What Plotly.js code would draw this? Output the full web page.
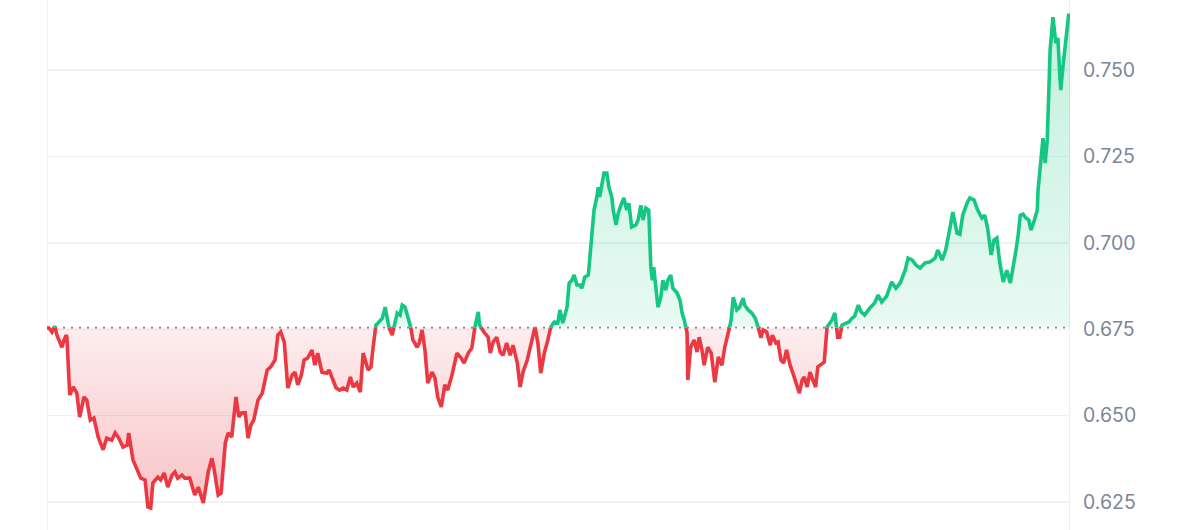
<!DOCTYPE html>
<html>
<head>
<meta charset="utf-8">
<script src="https://cdn.plot.ly/plotly-3.0.1.min.js"></script>
<style>
  html, body { margin: 0; padding: 0; background: #ffffff; }
  #chart { width: 1200px; height: 530px; }
</style>
</head>
<body>
<div id="chart"></div>
<script>
// Minutes since the start of the 24h window
const times = [
  0,3,7,11,14,18,21,24,27,28,32,37,42,46,52,56,61,66,72,79,84,91,96,101,107,113,115,121,127,132,
  138,142,146,149,156,160,165,170,176,180,184,190,194,201,208,213,220,227,232,235,241,245,251,255,260,266,270,274,279,283,
  287,291,297,303,310,315,321,325,329,334,339,345,349,353,358,362,367,373,377,381,387,394,397,401,407,412,417,422,427,431,
  436,441,445,452,456,459,463,466,472,476,480,486,488,493,497,500,504,508,512,515,521,524,528,532,536,542,546,550,555,560,
  564,570,577,583,587,593,598,602,607,609,615,621,624,628,633,638,642,647,652,656,662,666,670,676,681,687,691,695,700,705,
  709,714,719,722,726,732,735,739,742,746,750,753,757,762,764,767,770,774,776,778,781,784,788,791,795,797,801,804,809,812,
  816,819,823,829,832,836,839,843,847,850,852,854,860,864,867,871,874,878,881,887,891,894,897,901,902,906,911,915,918,922,
  925,930,935,940,945,950,954,959,963,966,971,975,980,982,987,992,997,1001,1005,1008,1013,1018,1021,1026,1029,1033,1037,1041,1046,1050,
  1056,1059,1063,1066,1070,1074,1078,1082,1085,1091,1094,1098,1102,1105,1109,1113,1116,1119,1125,1129,1133,1137,1142,1146,1151,1158,1165,1170,1175,1182,
  1189,1195,1201,1208,1212,1218,1223,1229,1236,1243,1250,1254,1260,1265,1271,1275,1281,1285,1289,1295,1299,1305,1310,1316,1320,1324,1329,1333,1337,1341,
  1346,1351,1356,1360,1364,1367,1370,1374,1378,1382,1385,1389,1394,1395,1398,1401,1402,1405,1408,1412,1416,1420,1423,1426,1427,1430,1436,1438,1440
];

// Price (USD)
const prices = [
  0.6755,0.6753,0.6742,0.6759,0.6733,0.6713,0.6698,0.6719,0.6733,0.6727,0.6560,0.6583,0.6565,0.6496,0.6554,0.6545,0.6487,0.6493,0.6438,0.6401,0.6435,0.6429,0.6450,0.6435,0.6409,0.6415,0.6450,0.6372,0.6343,0.6319,
  0.6314,0.6236,0.6233,0.6305,0.6322,0.6314,0.6334,0.6293,0.6328,0.6337,0.6319,0.6328,0.6319,0.6319,0.6270,0.6293,0.6247,0.6337,0.6377,0.6348,0.6270,0.6276,0.6421,0.6450,0.6438,0.6554,0.6496,0.6508,0.6508,0.6435,
  0.6473,0.6487,0.6545,0.6565,0.6632,0.6641,0.6661,0.6733,0.6742,0.6713,0.6580,0.6617,0.6626,0.6589,0.6617,0.6661,0.6667,0.6690,0.6646,0.6681,0.6626,0.6623,0.6632,0.6612,0.6580,0.6574,0.6580,0.6574,0.6612,0.6583,
  0.6594,0.6568,0.6681,0.6632,0.6641,0.6696,0.6762,0.6768,0.6782,0.6814,0.6762,0.6733,0.6753,0.6797,0.6791,0.6820,0.6814,0.6782,0.6756,0.6719,0.6698,0.6710,0.6748,0.6690,0.6594,0.6626,0.6609,0.6554,0.6525,0.6589,
  0.6574,0.6617,0.6681,0.6667,0.6652,0.6681,0.6696,0.6753,0.6800,0.6762,0.6742,0.6727,0.6681,0.6713,0.6727,0.6684,0.6675,0.6710,0.6675,0.6704,0.6652,0.6583,0.6626,0.6661,0.6710,0.6756,0.6710,0.6623,0.6681,0.6719,
  0.6756,0.6771,0.6768,0.6806,0.6768,0.6814,0.6884,0.6892,0.6907,0.6878,0.6878,0.6869,0.6901,0.6907,0.6950,0.7028,0.7095,0.7133,0.7161,0.7133,0.7173,0.7202,0.7202,0.7161,0.7133,0.7095,0.7052,0.7086,0.7115,0.7130,
  0.7095,0.7115,0.7046,0.7052,0.7066,0.7109,0.7066,0.7101,0.7095,0.6930,0.6892,0.6930,0.6814,0.6843,0.6892,0.6863,0.6892,0.6907,0.6869,0.6855,0.6834,0.6797,0.6777,0.6739,0.6603,0.6698,0.6719,0.6684,0.6727,0.6690,
  0.6646,0.6698,0.6681,0.6597,0.6670,0.6646,0.6698,0.6739,0.6777,0.6843,0.6806,0.6814,0.6840,0.6820,0.6806,0.6797,0.6782,0.6756,0.6725,0.6748,0.6742,0.6704,0.6733,0.6710,0.6713,0.6661,0.6652,0.6690,0.6646,0.6623,
  0.6583,0.6565,0.6603,0.6612,0.6583,0.6626,0.6603,0.6583,0.6641,0.6652,0.6655,0.6756,0.6768,0.6777,0.6797,0.6727,0.6727,0.6762,0.6768,0.6771,0.6782,0.6788,0.6820,0.6800,0.6791,0.6811,0.6826,0.6849,0.6829,0.6846,
  0.6887,0.6869,0.6884,0.6921,0.6956,0.6950,0.6936,0.6927,0.6942,0.6945,0.6956,0.6979,0.6950,0.6979,0.7043,0.7089,0.7028,0.7025,0.7080,0.7115,0.7130,0.7124,0.7095,0.7072,0.7080,0.7043,0.6965,0.7008,0.7014,0.6945,
  0.6887,0.6921,0.6884,0.6927,0.6979,0.7023,0.7080,0.7083,0.7072,0.7066,0.7037,0.7060,0.7095,0.7153,0.7225,0.7289,0.7303,0.7231,0.7298,0.7558,0.7653,0.7578,0.7593,0.7471,0.7442,0.7509,0.7624,0.7659,0.7659
];

const tickValues = [0.625, 0.650, 0.675, 0.700, 0.725, 0.750];
const tickLabels = ["0.625", "0.650", "0.675", "0.700", "0.725", "0.750"];

const GREEN = "#16c784";
const RED = "#ea3943";
const base = prices[0];

// Insert baseline crossing points so both colours meet exactly on the reference line
const xs = [], ys = [];
for (let i = 0; i < prices.length; i++) {
  if (i > 0) {
    const p0 = prices[i - 1], p1 = prices[i];
    if ((p0 - base) * (p1 - base) < 0) {
      const f = (base - p0) / (p1 - p0);
      xs.push(times[i - 1] + f * (times[i] - times[i - 1]));
      ys.push(base);
    }
  }
  xs.push(times[i]);
  ys.push(prices[i]);
}
const baseY = xs.map(() => base);
const upY = ys.map(v => Math.max(v, base));
const downY = ys.map(v => Math.min(v, base));
const greenLine = ys.map(v => (v >= base ? v : null));
const redLine = ys.map(v => (v <= base ? v : null));
const pMax = Math.max(...prices), pMin = Math.min(...prices);

const traces = [
  { x: xs, y: baseY, mode: "lines", line: { width: 0 }, hoverinfo: "skip", showlegend: false },
  { x: xs, y: upY, mode: "lines", line: { width: 0 }, fill: "tonexty",
    fillgradient: { type: "vertical", start: base, stop: pMax,
      colorscale: [[0, "rgba(22,199,132,0.10)"], [1, "rgba(22,199,132,0.26)"]] },
    hoverinfo: "skip", showlegend: false },
  { x: xs, y: baseY, mode: "lines", line: { width: 0 }, hoverinfo: "skip", showlegend: false },
  { x: xs, y: downY, mode: "lines", line: { width: 0 }, fill: "tonexty",
    fillgradient: { type: "vertical", start: pMin, stop: base,
      colorscale: [[0, "rgba(234,57,67,0.30)"], [1, "rgba(234,57,67,0.09)"]] },
    hoverinfo: "skip", showlegend: false },
  { x: [times[0], times[times.length - 1]], y: [base, base], mode: "lines",
    line: { color: "#7f879a", width: 1.8, dash: "2px,6px" }, hoverinfo: "skip", showlegend: false },
  { x: xs, y: redLine, mode: "lines", line: { color: RED, width: 3.6 }, connectgaps: false, showlegend: false },
  { x: xs, y: greenLine, mode: "lines", line: { color: GREEN, width: 3.6 }, connectgaps: false, showlegend: false }
];

const layout = {
  width: 1200, height: 530,
  margin: { l: 47, r: 130, t: 0, b: 0, pad: 0 },
  paper_bgcolor: "#ffffff", plot_bgcolor: "#ffffff",
  showlegend: false, hovermode: false,
  font: { family: "Inter, 'Noto Sans', Arial, sans-serif", size: 19.5, color: "#7d8699" },
  xaxis: { range: [times[0], times[times.length - 1]], showgrid: false, zeroline: false,
    showticklabels: false, showline: false, fixedrange: true },
  yaxis: { range: [0.6169, 0.7703], side: "right", tickvals: tickValues, ticktext: tickLabels,
    showgrid: true, gridcolor: "#eff1f4", gridwidth: 1.3, zeroline: false, showline: false,
    ticks: "", ticklabelstandoff: 12, fixedrange: true },
  shapes: [
    { type: "line", xref: "x", yref: "paper", x0: times[0], x1: times[0], y0: 0, y1: 1,
      line: { color: "#eeeff2", width: 2 }, layer: "below" },
    { type: "line", xref: "x", yref: "paper", x0: times[times.length - 1], x1: times[times.length - 1], y0: 0, y1: 1,
      line: { color: "#eeeff2", width: 2 }, layer: "below" }
  ]
};

Plotly.newPlot("chart", traces, layout, { displayModeBar: false, staticPlot: true });
</script>
</body>
</html>
